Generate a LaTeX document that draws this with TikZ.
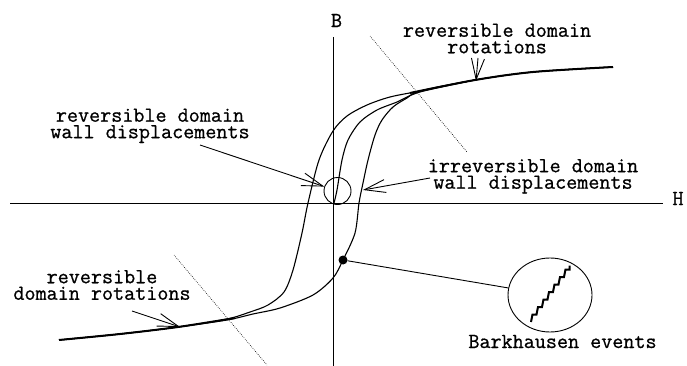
\documentclass[tikz,border=0pt]{standalone}
\usepackage{fontspec}
\newfontfamily\lblfont{Latin Modern Mono}[FakeBold=0.8]
\usetikzlibrary{arrows.meta,shapes.geometric}
\begin{document}
\begin{tikzpicture}[x=1pt,y=-1pt,
  lbl/.style={font=\fontsize{21.5}{16.5}\selectfont\lblfont, align=center, inner sep=0pt},
  axis/.style={line width=0.9pt},
  branch/.style={line width=1.1pt},
  sat/.style={line width=2pt},
  guide/.style={line width=0.6pt, dash pattern=on 0.7pt off 1.3pt},
  pointer/.style={line width=0.9pt, -{Straight Barb[length=21pt,width=13pt,line width=0.9pt]}},
  ring/.style={draw, line width=0.9pt, inner sep=0pt},
]
\useasboundingbox (0,0) rectangle (687,366);

% axes
\coordinate (hL) at (10,203);
\coordinate (hR) at (663,203);
\coordinate (bT) at (333.5,37);
\coordinate (bB) at (333.5,366);
\draw[axis] (hL) -- (hR);
\draw[axis] (bT) -- (bB);
\node[lbl] (Blab) at (336.5,20.5) {B};
\node[lbl] (Hlab) at (678,198.5) {H};

% dotted guide lines
\coordinate (d1a) at (370,36);
\coordinate (d1b) at (467,152);
\coordinate (d2a) at (174,255);
\coordinate (d2b) at (267,365);
\draw[guide] (d1a) -- (d1b);
\draw[guide] (d2a) -- (d2b);

% hysteresis loop
\draw[branch] plot[smooth,tension=0.5] coordinates {(613,67) (533,72) (475,80) (420,91) (390,97) (367,105) (347,116) (333,131) (319,160) (308,203) (302,233) (293,270) (284,292) (268,305) (250,312) (227,319) (178,327) (120,334) (59,340)};
\draw[branch] plot[smooth,tension=0.5] coordinates {(59,340) (120,334) (178,327) (227,320) (253,314) (280,308) (313,295) (333,278) (343,260) (355,233) (359,203) (363,183) (368,160) (375,135) (382,120) (393,107) (407,98) (420,91) (475,80) (533,72) (613,67)};
\draw[branch] plot[smooth,tension=0.5] coordinates {(334,203) (337,190) (342,160) (348,140) (360,122) (377,110) (397,102) (420,92) (475,80)};
\draw[sat] plot[smooth,tension=0.5] coordinates {(410,93) (475,80) (533,72) (613,67)};
\draw[sat] plot[smooth,tension=0.5] coordinates {(59,340) (120,334) (178,327) (235,318)};

% reversible wall displacement circle
\node[ring, circle, minimum size=27pt] (rc) at (337.5,191) {};

% Barkhausen
\node[circle, fill, inner sep=0pt, minimum size=9pt] (dot) at (343,260) {};
\node[ring, ellipse, minimum width=84pt, minimum height=74pt] (bk) at (550,295) {};
\draw[line width=0.9pt] (dot) -- (bk);
\draw[line width=2pt] (531,322) \foreach \i in {1,...,7}{ -- ++(1.5,-7.5) -- ++(4,0)} -- ++(0,-4);

% labels
\node[lbl] (tRot) at (497,38.5) {reversible domain\\rotations};
\node[lbl] (lWall) at (150,125.8) {reversible domain\\wall displacements};
\node[lbl] (irr) at (533,176.3) {irreversible domain\\wall displacements};
\node[lbl] (bRot) at (102,285) {reversible\\domain rotations};
\node[lbl] (bkLab) at (562.5,341.5) {Barkhausen events};

% pointers
\coordinate (p1s) at (478,58);
\coordinate (p1e) at (476,81);
\draw[pointer] (p1s) -- (p1e);
\coordinate (p2s) at (200,145);
\draw[pointer] (p2s) -- (rc);
\coordinate (p3s) at (430,178);
\coordinate (p3e) at (363,190);
\draw[pointer] (p3s) -- (p3e);
\coordinate (p4s) at (132,311);
\coordinate (p4e) at (180,327);
\draw[pointer] (p4s) -- (p4e);
\end{tikzpicture}
\end{document}
